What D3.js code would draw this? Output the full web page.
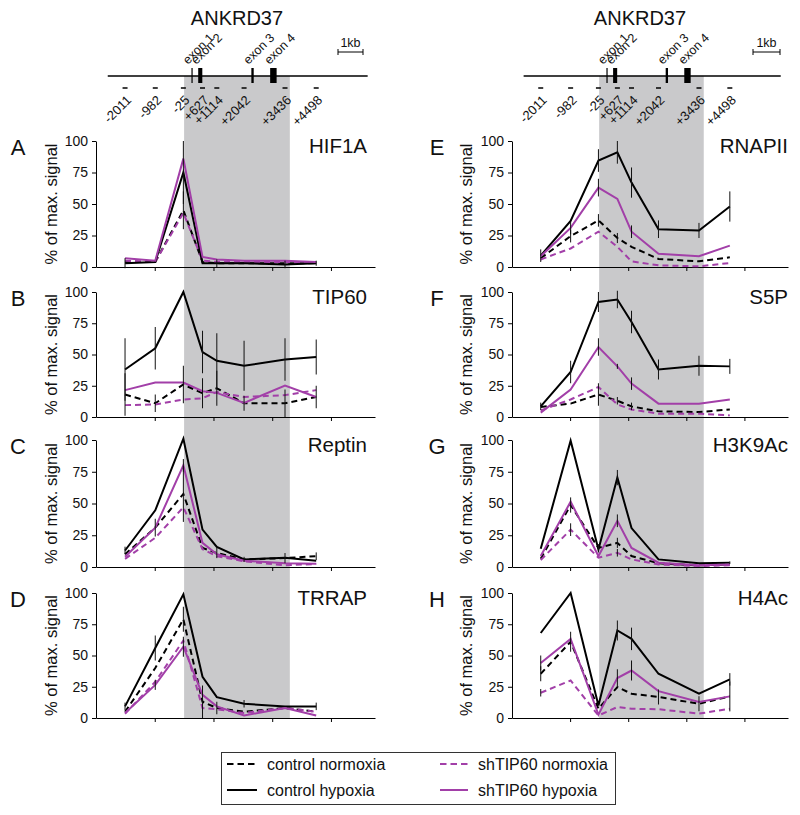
<!DOCTYPE html>
<html><head><meta charset="utf-8">
<script src="https://cdn.jsdelivr.net/npm/d3@7"></script>
<style>body{margin:0;background:#fff}svg{display:block}text{font-family:"Liberation Sans",Arial,sans-serif;fill:#111}</style>
</head><body><svg id="c" width="800" height="815"></svg>
<script>
// ---------- data ----------
const positions = [-2011, -982, -25, 627, 1114, 2042, 3436, 4498];
const primerLabels = ["-2011", "-982", "-25", "+627", "+1114", "+2042", "+3436", "+4498"];
const exonNames = ["exon 1", "exon 2", "exon 3", "exon 4"];
const exonStarts = [250, 480, 2290, 2930];
const exonEnds = [290, 620, 2370, 3150];
const geneSpan = [-2600, 6250];
const shadedSpan = [0, 3600];
const seriesNames = ["control normoxia", "control hypoxia", "shTIP60 normoxia", "shTIP60 hypoxia"];
const yTicks = [0, 25, 50, 75, 100];
const xTicks = [-1000, 1000, 3000, 5000];
const panelLetters = ["A", "B", "C", "D", "E", "F", "G", "H"];
const panelTitles = ["HIF1A", "TIP60", "Reptin", "TRRAP", "RNAPII", "S5P", "H3K9Ac", "H4Ac"];

// rows: control normoxia, control hypoxia, shTIP60 normoxia, shTIP60 hypoxia
const HIF1A = [
  [4, 4, 45, 4, 3, 3, 3, 3],
  [3, 4, 75, 3, 3, 3, 2, 3],
  [5, 4, 43, 5, 4, 4, 4, 3],
  [7, 5, 86, 8, 6, 5, 5, 4]];
const HIF1A_err = [
  [0, 0, 15, 0, 0, 0, 0, 0],
  [4, 0, 25, 0, 3, 0, 3, 2],
  [0, 0, 0, 0, 0, 0, 0, 0],
  [0, 0, 0, 0, 0, 0, 0, 0]];
const TIP60 = [
  [18, 11, 26, 19, 23, 11, 11, 16],
  [38, 55, 100, 52, 45, 41, 46, 48],
  [9.5, 10, 14, 15, 20, 16, 17.5, 21.5],
  [21.5, 27.6, 27.6, 20.6, 19.3, 11.3, 25.2, 16]];
const TIP60_err = [
  [17, 7, 15, 12, 14, 6, 11, 9],
  [25, 17, 0, 17, 22, 20, 17, 14],
  [0, 0, 0, 0, 0, 0, 0, 0],
  [0, 0, 0, 0, 0, 0, 0, 0]];
const Reptin = [
  [10, 31, 57.5, 15, 11, 6, 7, 8.5],
  [13, 44.6, 101, 29.4, 15.8, 5.9, 7.2, 5],
  [6.4, 23, 47, 14, 8.5, 4.5, 1.3, 2.4],
  [8, 31, 80, 19, 10, 5, 3, 2.5]];
const Reptin_err = [
  [0, 7, 22, 0, 4, 2, 4, 3],
  [3, 0, 0, 0, 0, 0, 0, 0],
  [0, 0, 0, 0, 0, 0, 0, 0],
  [0, 0, 5, 0, 0, 0, 0, 0]];
const TRRAP = [
  [5, 40, 79, 13, 8, 5, 8, 5],
  [9.3, 56, 99, 33, 16.7, 11.4, 9.3, 9.3],
  [3.4, 29, 62, 8, 7, 4, 8, 5],
  [4, 26.5, 57, 18.5, 9.3, 2, 8, 2]];
const TRRAP_err = [
  [0, 0, 10, 13, 5, 0, 0, 0],
  [3, 10, 0, 0, 0, 3, 0, 3],
  [0, 0, 0, 0, 0, 0, 0, 0],
  [0, 4, 8, 0, 0, 0, 0, 0]];
const RNAPII = [
  [7, 24.5, 37, 23, 16, 6.4, 4.5, 7.7],
  [9, 36.5, 84.5, 91, 67, 30, 29, 48],
  [6, 14.7, 28, 16, 4.5, 1.3, 0.5, 3.2],
  [8.5, 31, 63, 54, 28, 10.5, 8.5, 17]];
const RNAPII_err = [
  [0, 5, 5, 4, 0, 0, 0, 0],
  [5, 0, 9, 9, 12, 7, 6, 12],
  [0, 0, 0, 0, 0, 0, 0, 0],
  [0, 5, 7, 0, 5, 0, 0, 0]];
const S5P = [
  [8, 10.7, 18, 13, 8.5, 4.5, 4, 6],
  [8.5, 36, 92, 94, 76, 38, 41, 40.5],
  [5.3, 14, 24, 10, 6, 2.7, 2.7, 1.3],
  [3.5, 22, 56, 40.5, 26.7, 10.7, 10.7, 14]];
const S5P_err = [
  [0, 0, 9, 3, 3, 0, 0, 0],
  [3, 9, 8, 7, 9, 8, 8, 6],
  [0, 0, 0, 0, 0, 0, 0, 0],
  [0, 0, 7, 2, 5, 0, 0, 0]];
const H3K9Ac = [
  [6.5, 48.8, 15, 19, 8.6, 2.9, 1.3, 2],
  [14.3, 99.5, 13.8, 70.4, 30.6, 6, 2.9, 3.4],
  [5.5, 29.4, 7.3, 11.2, 6, 2, 0.8, 1.3],
  [8.6, 51.4, 8.6, 36.4, 15, 3.4, 1.3, 2]];
const H3K9Ac_err = [
  [0, 6, 3, 4, 0, 0, 0, 0],
  [0, 0, 0, 6, 0, 0, 0, 1],
  [0, 5, 0, 3, 0, 0, 0, 0],
  [0, 0, 0, 5, 0, 0, 0, 0]];
const H4Ac = [
  [35.4, 61, 7.4, 24.7, 19.4, 16.8, 11.4, 17.3],
  [68, 100, 10, 70, 63.3, 35.4, 19.4, 30.9],
  [20.2, 30, 2, 8.8, 7.4, 7, 3.5, 7.4],
  [44, 63.3, 2.7, 32, 38, 21.5, 12.8, 17.3]];
const H4Ac_err = [
  [6, 8, 0, 0, 0, 6, 6, 12],
  [0, 0, 0, 8, 9, 0, 0, 5],
  [3, 0, 0, 0, 0, 0, 0, 0],
  [6, 0, 0, 7, 8, 0, 0, 0]];

const panelData = [HIF1A, TIP60, Reptin, TRRAP, RNAPII, S5P, H3K9Ac, H4Ac];
const panelErr = [HIF1A_err, TIP60_err, Reptin_err, TRRAP_err, RNAPII_err, S5P_err, H3K9Ac_err, H4Ac_err];

// ---------- styles / layout ----------
const PURPLE = "#a23fa8";
const seriesColor = ["#000", "#000", PURPLE, PURPLE];
const seriesDash = ["6,4", null, "6,4", null];
const drawOrder = [0, 2, 1, 3];
const rowY = [[141, 267], [292, 417], [440, 567], [593, 718]];
const cols = [
  {range: [96, 375], titleX: 237, letterX: 18, ylabX: 57, titleR: 367, scale: [338, 363]},
  {range: [512, 788], titleX: 640, letterX: 437, ylabX: 472, titleR: 788, scale: [753, 780]}];

const svg = d3.select("#c");

cols.forEach((col, ci) => {
  const x = d3.scaleLinear().domain([-3000, 6500]).range(col.range);
  const g = svg.append("g");
  // shaded region
  g.append("rect").attr("x", x(shadedSpan[0])).attr("y", 76)
    .attr("width", x(shadedSpan[1]) - x(shadedSpan[0])).attr("height", 718 - 76)
    .attr("fill", "#c9c9cb");
  // gene diagram
  g.append("text").attr("x", col.titleX).attr("y", 25).attr("text-anchor", "middle")
    .attr("font-size", 20).text("ANKRD37");
  g.append("line").attr("x1", x(geneSpan[0])).attr("x2", x(geneSpan[1])).attr("y1", 76).attr("y2", 76)
    .attr("stroke", "#000").attr("stroke-width", 1.5);
  exonNames.forEach((nm, i) => {
    const w = Math.max(1.2, x(exonEnds[i]) - x(exonStarts[i]));
    g.append("rect").attr("x", x(exonStarts[i])).attr("y", 68).attr("width", w).attr("height", 15).attr("fill", "#000");
    const ex = x((exonStarts[i] + exonEnds[i]) / 2);
    g.append("text").attr("transform", `translate(${ex - 4},${65}) rotate(-45)`)
      .attr("font-size", 12.5).text(nm);
  });
  // scale bar
  g.append("text").attr("x", (col.scale[0] + col.scale[1]) / 2).attr("y", 47).attr("text-anchor", "middle")
    .attr("font-size", 12.5).text("1kb");
  g.append("path").attr("d", `M${col.scale[0]},49V55M${col.scale[0]},52H${col.scale[1]}M${col.scale[1]},49V55`)
    .attr("stroke", "#000").attr("fill", "none");
  // primers
  positions.forEach((p, i) => {
    g.append("line").attr("x1", x(p) - 2.5).attr("x2", x(p) + 2.5).attr("y1", 88).attr("y2", 88)
      .attr("stroke", "#000").attr("stroke-width", 1.5);
    g.append("text").attr("transform", `translate(${x(p) + 7},${101}) rotate(-45)`)
      .attr("text-anchor", "end").attr("font-size", 13).text(primerLabels[i]);
  });

  for (let r = 0; r < 4; r++) {
    const pi = ci * 4 + r;
    const [top, bot] = rowY[r];
    const y = d3.scaleLinear().domain([0, 100]).range([bot, top]);
    const pg = svg.append("g");
    pg.append("g").attr("transform", `translate(${col.range[0]},0)`)
      .call(d3.axisLeft(y).tickValues(yTicks).tickSize(4).tickSizeOuter(0).tickPadding(4))
      .call(a => a.selectAll("text").attr("font-size", 14).attr("font-family", '"Liberation Sans",Arial,sans-serif').attr("fill", "#111"));
    pg.append("g").attr("transform", `translate(0,${bot})`)
      .call(d3.axisBottom(x).tickValues(xTicks).tickSize(4).tickSizeOuter(0).tickFormat(""));
    pg.selectAll(".domain").attr("stroke", "#000");
    pg.append("text").attr("transform", `translate(${col.ylabX},${(top + bot) / 2}) rotate(-90)`)
      .attr("text-anchor", "middle").attr("font-size", 16.5).text("% of max. signal");
    pg.append("text").attr("x", col.letterX).attr("y", top + 14).attr("text-anchor", "middle")
      .attr("font-size", 22).text(panelLetters[pi]);
    pg.append("text").attr("x", col.titleR).attr("y", top + 12).attr("text-anchor", "end")
      .attr("font-size", 20.5).text(panelTitles[pi]);
    const data = panelData[pi], err = panelErr[pi];
    const line = d3.line().x((d, i) => x(positions[i])).y(d => y(d));
    drawOrder.forEach(s => {
      pg.append("path").datum(data[s]).attr("d", line).attr("fill", "none")
        .attr("stroke", seriesColor[s]).attr("stroke-width", 2)
        .attr("stroke-dasharray", seriesDash[s]);
    });
    drawOrder.forEach(s => {
      data[s].forEach((v, i) => {
        const e = err[s][i];
        if (!e) return;
        pg.append("line").attr("x1", x(positions[i])).attr("x2", x(positions[i]))
          .attr("y1", y(v - e)).attr("y2", y(Math.min(v + e, 101)))
          .attr("stroke", "#111").attr("stroke-width", 1);
      });
    });
  }
});

// legend
const lg = svg.append("g");
lg.append("rect").attr("x", 221.5).attr("y", 752.5).attr("width", 394).attr("height", 52)
  .attr("fill", "#fff").attr("stroke", "#333").attr("stroke-width", 1);
const legX = [[227, 257, 267], [227, 257, 267], [440, 468, 478], [440, 468, 478]];
const legY = [764, 790, 764, 790];
seriesNames.forEach((nm, s) => {
  lg.append("line").attr("x1", legX[s][0]).attr("x2", legX[s][1]).attr("y1", legY[s]).attr("y2", legY[s])
    .attr("stroke", seriesColor[s]).attr("stroke-width", 2).attr("stroke-dasharray", seriesDash[s] ? "6.5,4" : null);
  lg.append("text").attr("x", legX[s][2]).attr("y", legY[s] + 5.5).attr("font-size", 16).text(nm);
});
</script></body></html>
